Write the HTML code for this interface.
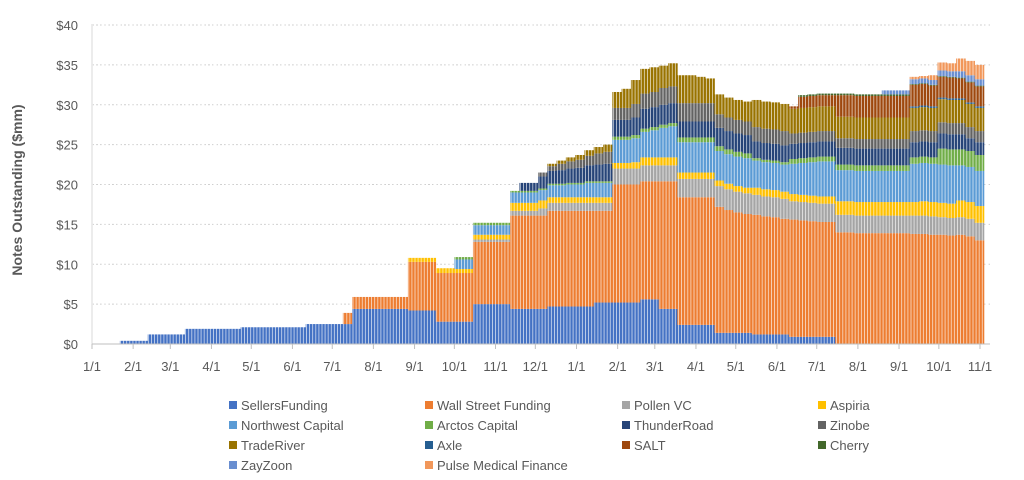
<!DOCTYPE html>
<html><head><meta charset="utf-8">
<style>
body{margin:0;background:#fff;width:1024px;height:475px;overflow:hidden;font-family:"Liberation Sans",sans-serif;}
svg text{font-family:"Liberation Sans",sans-serif;fill:#595959;}
</style></head>
<body>
<svg id="chart" width="1024" height="475" xmlns="http://www.w3.org/2000/svg">
<defs>
<pattern id="stripes" patternUnits="userSpaceOnUse" width="3.1" height="10"><rect x="2.3" y="0" width="0.8" height="10" fill="#fff" opacity="0.75"/></pattern>
</defs>
<g id="grid"></g><g id="bars"></g><g id="axes"></g><g id="legend"></g>
<text transform="translate(22,190) rotate(-90)" text-anchor="middle" font-size="14" font-weight="bold">Notes Outstanding ($mm)</text>
</svg>
<script>
const seriesNames=["SellersFunding","Wall Street Funding","Pollen VC","Aspiria","Northwest Capital","Arctos Capital","ThunderRoad","Zinobe","TradeRiver","Axle","SALT","Cherry","ZayZoon","Pulse Medical Finance"];
const seriesColors=["#4472C4","#ED7D31","#A5A5A5","#FFC000","#5B9BD5","#70AD47","#264478","#636363","#997300","#255E91","#9E480E","#43682B","#698ED0","#F1975A"];
const yTicks=[0,5,10,15,20,25,30,35,40];
const monthLabels=["1/1","2/1","3/1","4/1","5/1","6/1","7/1","8/1","9/1","10/1","11/1","12/1","1/1","2/1","3/1","4/1","5/1","6/1","7/1","8/1","9/1","10/1","11/1"];
const monthDays=[0,31,59,90,120,151,181,212,243,273,304,334,365,396,424,455,485,516,546,577,608,638,669];
const sellersFunding=[0,0,0,.4,.4,.4,1.2,1.2,1.2,1.2,1.9,1.9,
1.9,1.9,1.9,1.9,2.1,2.1,2.1,2.1,2.1,2.1,2.1,2.5,
2.5,2.5,2.5,2.5,4.4,4.4,4.4,4.4,4.4,4.4,4.2,4.2,
4.2,2.8,2.8,2.8,2.8,5,5,5,5,4.4,4.4,4.4,
4.4,4.7,4.7,4.7,4.7,4.7,5.2,5.2,5.2,5.2,5.2,5.6,
5.6,4.4,4.4,2.4,2.4,2.4,2.4,1.4,1.4,1.4,1.4,1.2,
1.2,1.2,1.2,.9,.9,.9,.9,.9,0,0,0,0,
0,0,0,0,0,0,0,0,0,0,0,0];
const wallStreetFunding=[0,0,0,0,0,0,0,0,0,0,0,0,
0,0,0,0,0,0,0,0,0,0,0,0,
0,0,0,1.4,1.5,1.5,1.5,1.5,1.5,1.5,6.1,6.1,
6.1,6.1,6.1,6.1,6.1,7.8,7.8,7.8,7.8,11.7,11.7,11.7,
11.7,12,12,12,12,12,11.5,11.5,14.8,14.8,14.8,14.8,
14.8,16,16,16,16,16,16,15.8,15.4,15.1,14.9,15,
14.8,14.7,14.5,14.7,14.6,14.5,14.4,14.4,14,14,13.9,13.9,
13.9,13.9,13.9,13.9,13.8,13.8,13.7,13.7,13.6,13.7,13.5,13];
const pollenVC=[0,0,0,0,0,0,0,0,0,0,0,0,
0,0,0,0,0,0,0,0,0,0,0,0,
0,0,0,0,0,0,0,0,0,0,0,0,
0,0,0,0,0,.3,.3,.3,.3,.6,.6,.6,
.9,1,1,1,1,1,1,1,2,2,2,2,
2,2,2,2.3,2.3,2.3,2.3,2.6,2.6,2.6,2.6,2.5,
2.5,2.5,2.5,2.3,2.3,2.3,2.3,2.3,2.2,2.2,2.2,2.2,
2.2,2.2,2.2,2.2,2.3,2.3,2.3,2.2,2.2,2.2,2.2,2.2];
const aspiria=[0,0,0,0,0,0,0,0,0,0,0,0,
0,0,0,0,0,0,0,0,0,0,0,0,
0,0,0,0,0,0,0,0,0,0,.5,.5,
.5,.6,.6,.5,.5,.6,.6,.6,.6,1,1,1,
1,.7,.7,.7,.7,.7,.7,.7,.7,.7,.8,1,
1,1,1,.8,.8,.8,.8,.7,.7,.7,.7,.9,
.9,.9,.9,.9,.9,.9,.9,.9,1.7,1.7,1.7,1.7,
1.7,1.7,1.7,1.7,1.7,1.8,1.8,1.8,1.8,2.1,2.1,2.1];
const northwestCapital=[0,0,0,0,0,0,0,0,0,0,0,0,
0,0,0,0,0,0,0,0,0,0,0,0,
0,0,0,0,0,0,0,0,0,0,0,0,
0,0,0,1.2,1.2,1.2,1.2,1.2,1.2,1.3,1.3,1.3,
1.3,1.5,1.5,1.6,1.6,1.8,1.8,1.8,2.9,2.9,3,3.2,
3.4,3.7,3.9,3.8,3.8,3.8,3.8,3.7,3.7,3.7,3.7,3.4,
3.4,3.4,3.4,3.8,4,4.2,4.4,4.4,3.9,3.9,3.9,3.9,
3.9,3.9,3.9,3.9,4.8,4.8,4.8,4.8,4.8,4.4,4.4,4.4];
const arctosCapital=[0,0,0,0,0,0,0,0,0,0,0,0,
0,0,0,0,0,0,0,0,0,0,0,0,
0,0,0,0,0,0,0,0,0,0,0,0,
0,0,0,.3,.3,.3,.3,.3,.3,.2,.2,.2,
.2,.2,.2,.2,.2,.2,.2,.2,.4,.4,.4,.4,
.4,.4,.4,.6,.6,.6,.6,.6,.6,.6,.6,.3,
.3,.3,.3,.6,.6,.6,.6,.6,.7,.7,.7,.7,
.7,.7,.7,.7,.8,.8,.8,2,2,2,2,2];
const thunderRoad=[0,0,0,0,0,0,0,0,0,0,0,0,
0,0,0,0,0,0,0,0,0,0,0,0,
0,0,0,0,0,0,0,0,0,0,0,0,
0,0,0,0,0,0,0,0,0,0,1,1,
1.5,1.6,1.7,1.8,1.9,2,2.1,2.2,2.1,2.1,2.2,2.5,
2.5,2.5,2.5,2,2,2,2,2.3,2.3,2.3,2.3,2.1,
2.1,2.1,2.1,1.9,1.9,1.9,1.9,1.9,2.1,2.1,2.1,2.1,
2.1,2.1,2.1,2.1,1.9,1.9,1.9,1.9,1.9,1.9,1.6,1.6];
const zinobe=[0,0,0,0,0,0,0,0,0,0,0,0,
0,0,0,0,0,0,0,0,0,0,0,0,
0,0,0,0,0,0,0,0,0,0,0,0,
0,0,0,0,0,0,0,0,0,0,0,0,
.5,.6,.8,.9,1,1.2,1.4,1.5,1.5,1.5,1.7,1.9,
1.9,2.1,2.1,2.3,2.3,2.3,2.3,1.7,1.7,1.7,1.7,1.8,
1.8,1.8,1.8,1.3,1.3,1.3,1.3,1.3,1.2,1.2,1.2,1.2,
1.2,1.2,1.2,1.2,1.4,1.4,1.4,1.4,1.4,1.4,1.4,1.4];
const tradeRiver=[0,0,0,0,0,0,0,0,0,0,0,0,
0,0,0,0,0,0,0,0,0,0,0,0,
0,0,0,0,0,0,0,0,0,0,0,0,
0,0,0,0,0,0,0,0,0,0,0,0,
0,.3,.4,.5,.6,.7,.8,.9,2,2.4,3,3.1,
3.1,2.8,2.9,3.5,3.5,3.3,3.1,2.5,2.5,2.5,2.5,3.4,
3.4,3.4,3.4,3.1,3.1,3.1,3.1,3.1,2.7,2.7,2.7,2.7,
2.7,2.7,2.7,2.7,2.9,2.9,2.9,2.9,2.9,2.9,2.9,2.9];
const axle=[0,0,0,0,0,0,0,0,0,0,0,0,
0,0,0,0,0,0,0,0,0,0,0,0,
0,0,0,0,0,0,0,0,0,0,0,0,
0,0,0,0,0,0,0,0,0,0,0,0,
0,0,0,0,0,0,0,0,0,0,0,0,
0,0,0,0,0,0,0,0,0,0,0,0,
0,0,0,0,0,0,0,0,0,0,0,0,
0,0,0,0,.2,.2,.2,.2,.2,.2,.2,.2];
const salt=[0,0,0,0,0,0,0,0,0,0,0,0,
0,0,0,0,0,0,0,0,0,0,0,0,
0,0,0,0,0,0,0,0,0,0,0,0,
0,0,0,0,0,0,0,0,0,0,0,0,
0,0,0,0,0,0,0,0,0,0,0,0,
0,0,0,0,0,0,0,0,0,0,0,0,
0,0,0,.3,1.4,1.4,1.4,1.4,2.7,2.7,2.7,2.7,
2.7,2.7,2.7,2.7,2.7,2.7,2.6,2.6,2.6,2.5,2.5,2.5];
const cherry=[0,0,0,0,0,0,0,0,0,0,0,0,
0,0,0,0,0,0,0,0,0,0,0,0,
0,0,0,0,0,0,0,0,0,0,0,0,
0,0,0,0,0,0,0,0,0,0,0,0,
0,0,0,0,0,0,0,0,0,0,0,0,
0,0,0,0,0,0,0,0,0,0,0,0,
0,0,0,0,.2,.2,.2,.2,.2,.2,.2,.2,
.2,.2,.2,.2,.1,.1,.1,.1,.1,.1,.1,.1];
const zayZoon=[0,0,0,0,0,0,0,0,0,0,0,0,
0,0,0,0,0,0,0,0,0,0,0,0,
0,0,0,0,0,0,0,0,0,0,0,0,
0,0,0,0,0,0,0,0,0,0,0,0,
0,0,0,0,0,0,0,0,0,0,0,0,
0,0,0,0,0,0,0,0,0,0,0,0,
0,0,0,0,0,0,0,0,0,0,0,0,
0,.5,.5,.5,.6,.6,.6,.7,.7,.8,.8,.8];
const pulseMedical=[0,0,0,0,0,0,0,0,0,0,0,0,
0,0,0,0,0,0,0,0,0,0,0,0,
0,0,0,0,0,0,0,0,0,0,0,0,
0,0,0,0,0,0,0,0,0,0,0,0,
0,0,0,0,0,0,0,0,0,0,0,0,
0,0,0,0,0,0,0,0,0,0,0,0,
0,0,0,0,0,0,0,0,0,0,0,0,
0,0,0,0,.3,.3,.6,1,1,1.6,1.8,1.8];
const seriesData=[sellersFunding,wallStreetFunding,pollenVC,aspiria,northwestCapital,arctosCapital,thunderRoad,zinobe,tradeRiver,axle,salt,cherry,zayZoon,pulseMedical];

const NS="http://www.w3.org/2000/svg";
const X0=92,PXDAY=888/669,Y0=344,PXUNIT=319/40;
const xDay=d=>X0+d*PXDAY;
const xWeek=w=>xDay(w*7);
const yVal=v=>Y0-v*PXUNIT;
function mk(tag,attrs,parent){const e=document.createElementNS(NS,tag);for(const k in attrs)e.setAttribute(k,attrs[k]);parent.appendChild(e);return e;}
const grid=document.getElementById('grid'),bars=document.getElementById('bars'),axes=document.getElementById('axes'),legend=document.getElementById('legend');
yTicks.forEach(t=>{
  if(t>0){const l=mk('line',{x1:X0,x2:990,y1:yVal(t),y2:yVal(t),stroke:'#cfcfcf','stroke-dasharray':'2,2'},grid);
  
  }
  const tx=mk('text',{x:78,y:yVal(t)+5,'text-anchor':'end','font-size':'13'},axes);
  tx.textContent='$'+t;
  
  
});
const nW=sellersFunding.length;
for(let w=0;w<nW;w++){
  let cum=0;
  const x1=xWeek(w),x2=Math.min(xWeek(w+1),990);
  seriesData.forEach((arr,si)=>{
    const v=arr[w];if(!v)return;
    const r=mk('rect',{x:x1,y:yVal(cum+v),width:x2-x1+0.3,height:v*PXUNIT,fill:seriesColors[si]},bars);
    
    
    cum+=v;
  });
}
const ov=mk('rect',{x:X0,y:20,width:898,height:Y0-20,fill:'url(#stripes)'},bars);


const yl=mk('line',{x1:X0,x2:X0,y1:24,y2:Y0,stroke:'#d9d9d9'},axes);


const xl=mk('line',{x1:X0,x2:990,y1:Y0,y2:Y0,stroke:'#bfbfbf'},axes);


monthDays.forEach((d,i)=>{
  const x=xDay(d);
  const tk=mk('line',{x1:x,x2:x,y1:Y0,y2:Y0+5,stroke:'#bfbfbf'},axes);
  
  
  const t=mk('text',{x:x,y:371,'text-anchor':'middle','font-size':'13'},axes);
  t.textContent=monthLabels[i];
  
  
});
const legX=[229,425,622,818],legY=[405,425,445,465];
seriesNames.forEach((n,i)=>{
  const cx=legX[i%4],cy=legY[Math.floor(i/4)];
  const g=mk('g',{},legend);
  
  
  mk('rect',{x:cx,y:cy-4,width:8,height:8,fill:seriesColors[i]},g);
  const t=mk('text',{x:cx+12,y:cy+5,'font-size':'13'},g);
  t.textContent=n;
});
</script>
</body></html>
